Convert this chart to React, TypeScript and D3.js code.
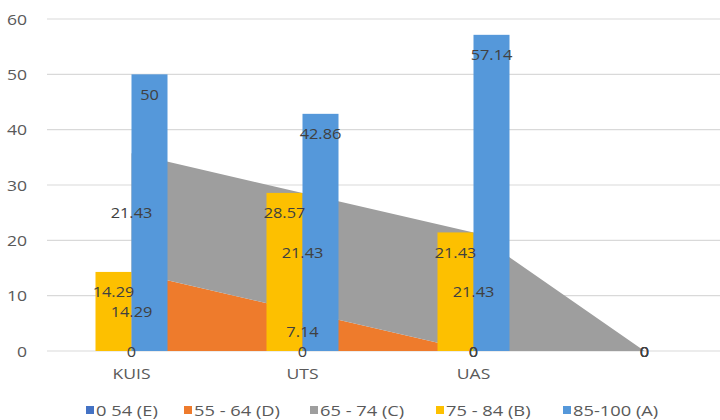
import React from "react";
import * as d3 from "d3";

const categories = ["KUIS", "UTS", "UAS", ""];
const seriesE = [0, 0, 0, 0];
const seriesD = [14.29, 7.14, 0, 0];
const seriesC = [21.43, 21.43, 21.43, 0];
const seriesB: (number | null)[] = [14.29, 28.57, 21.43, null];
const seriesA: (number | null)[] = [50, 42.86, 57.14, null];
const yTicks = [0, 10, 20, 30, 40, 50, 60];
const legendLabels = ["0 54 (E)", "55 - 64 (D)", "65 - 74 (C)", "75 - 84 (B)", "85-100 (A)"];
const legendColors = ["#4472C4", "#EE7B2C", "#9E9E9E", "#FDC000", "#5598DA"];

const W = 720;
const H = 420;
const SX = 1.17;
const FONT = "'Open Sans', 'Noto Sans', sans-serif";
const LEGEND_X = [86, 184, 310, 436, 563];

function T(props: {
  x: number; y: number; children: React.ReactNode; anchor?: string; size?: number; fill?: string; sx?: number; weight?: number;
}) {
  const { x, y, children, anchor = "middle", size = 14, fill = "#404040", sx = SX, weight = 400 } = props;
  return (
    <text
      transform={`translate(${x},${y}) scale(${sx},1)`}
      textAnchor={anchor}
      dominantBaseline="central"
      fontFamily={FONT}
      fontSize={size}
      fontWeight={weight}
      fill={fill}
    >
      {children}
    </text>
  );
}

export default function App() {
  const x = d3.scaleBand<string>().domain(categories).range([46, 730]).padding(0);
  const cx = (i: number) => (x(categories[i]) as number) + x.bandwidth() / 2;
  const y = d3.scaleLinear().domain([0, 60]).range([351, 19]);
  const inner = d3.scaleBand<string>().domain(["B", "A"]).range([-36, 36]).padding(0);

  const rows = categories.map((c, i) => ({ i, E: seriesE[i], D: seriesD[i], C: seriesC[i] }));
  const stack = d3.stack<any>().keys(["E", "D", "C"])(rows);
  const area = d3
    .area<any>()
    .x((d: any) => cx(d.data.i))
    .y0((d: any) => y(d[0]))
    .y1((d: any) => y(d[1]));

  const areaColors: Record<string, string> = { E: legendColors[0], D: legendColors[1], C: legendColors[2] };
  const bars = [
    { key: "B", vals: seriesB, color: legendColors[3] },
    { key: "A", vals: seriesA, color: legendColors[4] },
  ];

  return (
    <svg width={W} height={H} style={{ position: "absolute", left: 0, top: 0, background: "#fff" }}>
      {yTicks.map((t) => (
        <g key={t}>
          <line x1={47} x2={W} y1={y(t)} y2={y(t)} stroke="#D9D9D9" strokeWidth={1.2} />
          <T x={27} y={y(t)} anchor="end" size={15} fill="#595959">{t}</T>
        </g>
      ))}
      {stack.map((s) => (
        <path key={s.key} d={area(s as any) || ""} fill={areaColors[s.key]} />
      ))}
      {bars.map((b) =>
        b.vals.map((v, i) =>
          v == null ? null : (
            <rect
              key={b.key + i}
              x={cx(i) + (inner(b.key) as number)}
              width={inner.bandwidth()}
              y={y(v)}
              height={y(0) - y(v)}
              fill={b.color}
            />
          )
        )
      )}
      {stack.map((s) =>
        s.map((d: any, i: number) => (
          <T key={s.key + "l" + i} x={cx(i)} y={y((d[0] + d[1]) / 2)}>
            {String(d[1] - d[0] === 0 ? 0 : +(d[1] - d[0]).toFixed(2))}
          </T>
        ))
      )}
      {bars.map((b) =>
        b.vals.map((v, i) =>
          v == null ? null : (
            <T key={b.key + "t" + i} x={cx(i) + (inner(b.key) as number) + inner.bandwidth() / 2} y={y(v) + 20}>
              {String(v)}
            </T>
          )
        )
      )}
      {categories.map((c, i) => (
        <T key={"c" + i} x={cx(i)} y={373} size={15} fill="#595959">{c}</T>
      ))}
      {legendLabels.map((l, i) => (
        <g key={"lg" + i}>
          <rect x={LEGEND_X[i]} y={406} width={8} height={8} fill={legendColors[i]} />
          <T x={LEGEND_X[i] + 10} y={410} anchor="start" size={15} fill="#595959" sx={1.22}>{l}</T>
        </g>
      ))}
    </svg>
  );
}
